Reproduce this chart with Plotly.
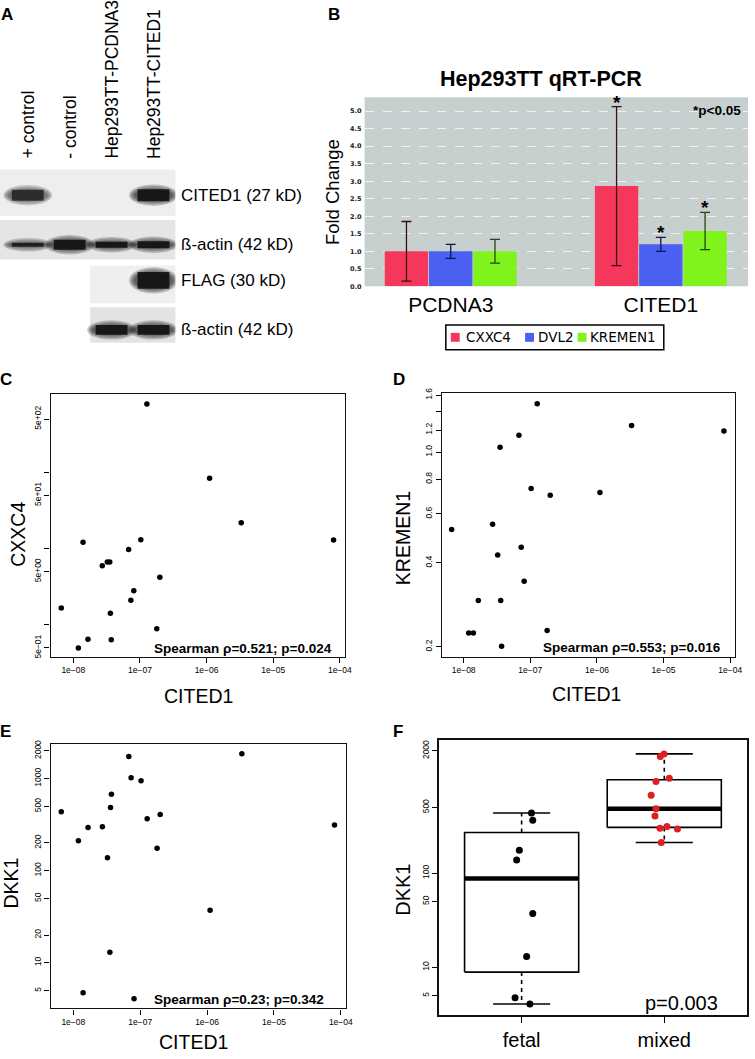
import plotly.graph_objects as go
import numpy as np

W, H = 755, 1059

# ------------------------------------------------------------------ data
# Panel A: western blot (relative band intensity per lane, None = lane not loaded)
lanes = ['+ control', '- control', 'Hep293TT-PCDNA3', 'Hep293TT-CITED1']
blot_rows = ['CITED1 (27 kD)', 'ß-actin (42 kD)', 'FLAG (30 kD)', 'ß-actin (42 kD)']
blot_cited1 = [0.80, 0.0, 0.0, 1.0]
blot_actin1 = [0.90, 1.0, 1.0, 1.0]
blot_flag = [None, None, 0.0, 1.0]
blot_actin2 = [None, None, 1.0, 1.0]

# Panel B: qRT-PCR fold change
qpcr_groups = ['PCDNA3', 'CITED1']
qpcr_genes = ['CXXC4', 'DVL2', 'KREMEN1']
fc_cxxc4 = [1.00, 2.86]
fc_dvl2 = [1.00, 1.20]
fc_kremen1 = [1.00, 1.58]
err_cxxc4 = [0.85, 2.27]
err_dvl2 = [0.20, 0.20]
err_kremen1 = [0.34, 0.53]
sig_cxxc4 = [False, True]
sig_dvl2 = [False, True]
sig_kremen1 = [False, True]
qpcr_note = '*p<0.05'

# Panels C-F: tumour samples
cited1 = [6.6e-9, 1.19e-8, 1.40e-8, 1.66e-8, 2.72e-8, 3.24e-8, 3.52e-8, 3.60e-8, 3.71e-8,
          6.76e-8, 7.31e-8, 8.09e-8, 1.03e-7, 1.27e-7, 1.79e-7, 1.99e-7, 1.11e-6, 3.31e-6, 8.05e-5]
cxxc4 = [1.67, 0.50, 12.1, 0.65, 5.98, 6.68, 6.68, 1.42, 0.64,
         9.75, 2.10, 2.81, 13.1, 791, 0.89, 4.22, 84, 21.8, 13.0]
kremen1 = [0.527, 0.224, 0.224, 0.293, 0.551, 0.427, 1.04, 0.293, 0.201,
           1.15, 0.455, 0.344, 0.74, 1.49, 0.229, 0.70, 0.716, 1.245, 1.19]
dkk1 = [437, 212, 4.75, 295, 300, 138, 13.0, 485, 675,
        1740, 1024, 4.07, 947, 367, 175, 407, 37.3, 1858, 314]
histology = ['fetal', 'mixed', 'fetal', 'mixed', 'mixed', 'fetal', 'fetal', 'mixed', 'mixed',
             'mixed', 'mixed', 'fetal', 'mixed', 'fetal', 'fetal', 'mixed', 'fetal', 'mixed', 'mixed']
jitter = [0.069, -0.021, -0.046, 0.092, -0.030, -0.035, 0.035, -0.058, -0.092,
          -0.028, 0.035, 0.058, -0.058, 0.078, -0.016, -0.065, 0.078, -0.002, 0.019]
hist_groups = ['fetal', 'mixed']
spearman_c = 'Spearman \u03c1=0.521; p=0.024'
spearman_d = 'Spearman \u03c1=0.553; p=0.016'
spearman_e = 'Spearman \u03c1=0.23; p=0.342'
pval_f = 'p=0.003'

# ------------------------------------------------------------------ style
FONT = 'Liberation Sans'
bar_colors = ['#f5375c', '#4b5ff0', '#80f21c']
err_colors = ['#3a0c16', '#0f1650', '#26460c']
panel_b_bg = '#c8cfcf'
strip_px = [(0, 177, 165, 212), (0, 177, 216, 256), (91, 177, 262, 300), (91, 177, 304, 340)]
strip_fill = ['#eeeeee', '#e5e5e5', '#efefef', '#e3e3e3']
band_cy = [191, 241, 277, 327]
band_h = [[11, 0, 0, 12], [4, 10, 6, 7], [0, 0, 0, 17], [0, 0, 10, 10]]
lane0_px, lane_step = 28.0, 42.3


def fx(px):
    return px / W


def fy(py):
    return 1 - py / H


fig = go.Figure()
shapes = []
ann = []


def text(x, y, s, size, bold=False, xref='paper', yref='paper', xa='center', ya='middle',
         angle=0, family=FONT, color='black', yshift=0):
    ann.append(dict(x=x, y=y, xref=xref, yref=yref, text=('<b>%s</b>' % s) if bold else s,
                    showarrow=False, xanchor=xa, yanchor=ya, textangle=angle, yshift=yshift,
                    font=dict(family=family, size=size, color=color)))


# ------------------------------------------------------------------ panel A
blot_data = [blot_cited1, blot_actin1, blot_flag, blot_actin2]
fig.add_trace(go.Scatter(x=[0], y=[0], xaxis='x2', yaxis='y2', mode='markers',
                         marker=dict(opacity=0), showlegend=False, hoverinfo='skip'))
for r, (row, vals) in enumerate(zip(blot_rows, blot_data)):
    x0p, x1p, y0p, y1p = strip_px[r]
    shapes.append(dict(type='rect', xref='paper', yref='paper', x0=fx(x0p), x1=fx(x1p),
                       y0=fy(y1p), y1=fy(y0p), fillcolor=strip_fill[r], line=dict(width=0),
                       layer='below'))
    for li, v in enumerate(vals):
        if v is None or v <= 0:
            continue
        h = band_h[r][li]
        cy = band_cy[r]
        # soft, layered band
        for k in range(4):
            ex = (3 - k) * 1.6
            shapes.append(dict(type='circle', xref='x2', yref='paper',
                               x0=li - 0.47 - ex / lane_step, x1=li + 0.47 + ex / lane_step,
                               y0=fy(cy + h / 2 + ex), y1=fy(cy - h / 2 - ex),
                               fillcolor='rgba(15,15,15,%.2f)' % (0.22 * v), line=dict(width=0)))
        shapes.append(dict(type='rect', xref='x2', yref='paper', x0=li - 0.38, x1=li + 0.38,
                           y0=fy(cy + h / 2), y1=fy(cy - h / 2),
                           fillcolor='rgba(10,10,10,%.2f)' % (0.85 * v), line=dict(width=0)))
    text(fx(181), fy(band_cy[r]), row, 17, xa='left')

for li, lab in enumerate(lanes):
    text(li, fy(156), lab, 17.5, xref='x2', ya='bottom', angle=-90)

# ------------------------------------------------------------------ panel B
bargap = 0.368
fcs = [fc_cxxc4, fc_dvl2, fc_kremen1]
errs = [err_cxxc4, err_dvl2, err_kremen1]
sigs = [sig_cxxc4, sig_dvl2, sig_kremen1]
xpos = list(range(len(qpcr_groups)))
shapes.append(dict(type='rect', xref='x domain', yref='y domain', x0=0, x1=1, y0=0, y1=1,
                   fillcolor=panel_b_bg, line=dict(width=0), layer='below'))
for gi, gene in enumerate(qpcr_genes):
    fig.add_trace(go.Bar(x=xpos, y=fcs[gi], name=gene, xaxis='x', yaxis='y',
                         marker=dict(color=bar_colors[gi], line=dict(width=0)),
                         error_y=dict(type='data', array=errs[gi], color=err_colors[gi],
                                      thickness=1.3, width=5),
                         showlegend=False))
    for j in xpos:
        if sigs[gi][j]:
            off = (gi - 1) * (1 - bargap) / len(qpcr_genes)
            text(j + off, fcs[gi][j] + errs[gi][j], '*', 19, bold=True, xref='x', yref='y',
                 ya='bottom', yshift=-8)

text(fx(546), fy(74), 'Hep293TT qRT-PCR', 21.5, bold=True)
text(fx(724), fy(106), qpcr_note, 13.5, bold=True)
text(fx(335), fy(188), 'Fold Change', 18.5, angle=-90)

# manual legend
shapes.append(dict(type='rect', xref='paper', yref='paper', x0=fx(450), x1=fx(670),
                   y0=fy(347), y1=fy(322), line=dict(color='black', width=1.5),
                   fillcolor='white'))
leg_sq = [455, 530, 583]
leg_tx = [468, 541, 594]
for gi, gene in enumerate(qpcr_genes):
    shapes.append(dict(type='rect', xref='paper', yref='paper', x0=fx(leg_sq[gi]),
                       x1=fx(leg_sq[gi] + 9), y0=fy(339), y1=fy(330),
                       fillcolor=bar_colors[gi], line=dict(width=0)))
    text(fx(leg_tx[gi]), fy(334.5), gene, 13.5, xa='left', family='DejaVu Sans')

# ------------------------------------------------------------------ panels C, D, E
mk = dict(color='black', size=5.5)
fig.add_trace(go.Scatter(x=cited1, y=cxxc4, mode='markers', marker=mk, xaxis='x3', yaxis='y3',
                         showlegend=False))
fig.add_trace(go.Scatter(x=cited1, y=kremen1, mode='markers', marker=mk, xaxis='x4', yaxis='y4',
                         showlegend=False))
fig.add_trace(go.Scatter(x=cited1, y=dkk1, mode='markers', marker=mk, xaxis='x5', yaxis='y5',
                         showlegend=False))

text(fx(245), fy(649), spearman_c, 13.5, bold=True)
text(fx(638), fy(648), spearman_d, 13.5, bold=True)
text(fx(241), fy(1003), spearman_e, 13.5, bold=True)

text(fx(18), fy(533), 'CXXC4', 19.5, angle=-90)
text(fx(200), fy(697), 'CITED1', 19.5)
text(fx(407), fy(537), 'KREMEN1', 19.5, angle=-90)
text(fx(592), fy(695), 'CITED1', 19.5)
text(fx(11), fy(885), 'DKK1', 19.5, angle=-90)
text(fx(195), fy(1046), 'CITED1', 19.5)

# ------------------------------------------------------------------ panel F


def fivenum(v):
    v = np.sort(np.asarray(v, float))
    n = len(v)
    n4 = np.floor((n + 3) / 2) / 2
    d = np.array([1, n4, (n + 1) / 2, n + 1 - n4, n]) - 1
    return 0.5 * (v[np.floor(d).astype(int)] + v[np.ceil(d).astype(int)])


for gi, g in enumerate(hist_groups):
    pos = gi + 1
    vals = [d for d, h in zip(dkk1, histology) if h == g]
    mn, q1, med, q3, mx = fivenum(vals)
    iqr = q3 - q1
    lo = min(v for v in vals if v >= q1 - 1.5 * iqr)
    hi = max(v for v in vals if v <= q3 + 1.5 * iqr)
    ln = dict(color='black', width=1.6)
    dash = dict(color='black', width=1.6, dash='4px,4px')
    common = dict(xaxis='x6', yaxis='y6', mode='lines', showlegend=False, hoverinfo='skip')
    fig.add_trace(go.Scatter(x=[pos, pos], y=[q3, hi], line=dash, **common))
    fig.add_trace(go.Scatter(x=[pos, pos], y=[q1, lo], line=dash, **common))
    fig.add_trace(go.Scatter(x=[pos - 0.2, pos + 0.2], y=[hi, hi], line=ln, **common))
    fig.add_trace(go.Scatter(x=[pos - 0.2, pos + 0.2], y=[lo, lo], line=ln, **common))
    fig.add_trace(go.Scatter(x=[pos - 0.4, pos + 0.4, pos + 0.4, pos - 0.4, pos - 0.4],
                             y=[q1, q1, q3, q3, q1], line=ln, **common))
    fig.add_trace(go.Scatter(x=[pos - 0.4, pos + 0.4], y=[med, med],
                             line=dict(color='black', width=4.5), **common))

for gi, g in enumerate(hist_groups):
    xs = [gi + 1 + j for j, h in zip(jitter, histology) if h == g]
    ys = [d for d, h in zip(dkk1, histology) if h == g]
    fig.add_trace(go.Scatter(x=xs, y=ys, mode='markers', xaxis='x6', yaxis='y6',
                             marker=dict(color='black' if g == 'fetal' else '#dc2020', size=7),
                             showlegend=False))

text(fx(688), fy(1007), pval_f, 20)
text(fx(406), fy(892), 'DKK1', 20, angle=-90)

# panel letters
for s, (x, y) in zip('ABCDEF', [(7, 9), (337, 9), (6, 377), (403, 377), (6, 732), (402, 732)]):
    text(fx(x), fy(y), s, 17, bold=True)

# ------------------------------------------------------------------ axes
tickf = dict(family=FONT, size=8.5, color='black')
boxax = dict(showline=True, mirror=True, linecolor='#111', linewidth=1.4, ticks='outside',
             ticklen=5, tickwidth=1, tickcolor='black', showgrid=False, zeroline=False,
             tickfont=tickf)
xlog_ticks = [1e-8, 1e-7, 1e-6, 1e-5, 1e-4]
xlog_text = ['1e\u221208', '1e\u221207', '1e\u221206', '1e\u221205', '1e\u221204']

layout = dict(
    width=W, height=H, margin=dict(l=0, r=0, t=0, b=0), paper_bgcolor='white',
    plot_bgcolor='white', showlegend=False, bargap=bargap, bargroupgap=0.02,
    barmode='group',
    xaxis=dict(domain=[fx(368), 1.0], range=[-0.41, 1.415], tickvals=xpos,
               ticktext=qpcr_groups, ticks='', showline=False, showgrid=False,
               zeroline=False, tickfont=dict(family=FONT, size=21, color='black'),
               anchor='y', ticklabelstandoff=4),
    yaxis=dict(domain=[fy(283), fy(92)], range=[0, 5.4], dtick=0.5, tick0=0,
               tickformat='.1f', showgrid=True, gridcolor='rgba(255,255,255,0.7)',
               gridwidth=0.8, griddash='dash', zeroline=False, showline=False, ticks='',
               tickfont=dict(family='DejaVu Sans', size=6.5, color='#222', weight='bold'),
               anchor='x', ticklabelstandoff=2),
    xaxis2=dict(domain=[0, fx(177)], range=[-lane0_px / lane_step, (177 - lane0_px) / lane_step],
                visible=False, anchor='y2'),
    yaxis2=dict(domain=[fy(340), fy(0)], range=[0, 1], visible=False, anchor='x2'),
    xaxis3=dict(domain=[fx(51), fx(348)], type='log', range=[-8.342, -3.926],
                tickvals=xlog_ticks, ticktext=xlog_text, anchor='y3', **boxax),
    yaxis3=dict(domain=[fy(657), fy(392)], type='log', range=[-0.418, 3.024],
                tickvals=[0.5, 1, 5, 10, 50, 100, 500],
                ticktext=['5e\u221201', '', '5e+00', '', '5e+01', '', '5e+02'],
                tickangle=-90, anchor='x3', **boxax),
    xaxis4=dict(domain=[fx(446), fx(742)], type='log', range=[-8.327, -3.926],
                tickvals=xlog_ticks, ticktext=xlog_text, anchor='y4', **boxax),
    yaxis4=dict(domain=[fy(657), fy(391)], type='log', range=[-0.735, 0.211],
                tickvals=[0.2, 0.4, 0.6, 0.8, 1.0, 1.2, 1.4, 1.6],
                ticktext=['0.2', '0.4', '0.6', '0.8', '1.0', '1.2', '', '1.6'],
                tickangle=-90, anchor='x4', **boxax),
    xaxis5=dict(domain=[fx(51), fx(349)], type='log', range=[-8.341, -3.926],
                tickvals=xlog_ticks, ticktext=xlog_text, anchor='y5', **boxax),
    yaxis5=dict(domain=[fy(1012), fy(745)], type='log', range=[0.505, 3.376],
                tickvals=[5, 10, 20, 50, 100, 200, 500, 1000, 2000],
                ticktext=['5', '10', '20', '50', '100', '200', '500', '1000', '2000'],
                tickangle=-90, anchor='x5', **boxax),
    xaxis6=dict(domain=[fx(443), fx(754)], range=[0.42, 2.58], tickvals=[1, 2],
                ticktext=hist_groups, anchor='y6',
                **{**boxax, 'tickfont': dict(family=FONT, size=20, color='black'),
                   'linewidth': 1.8, 'ticklen': 6}),
    yaxis6=dict(domain=[fy(1019), fy(741)], type='log', range=[0.488, 3.417],
                tickvals=[5, 10, 50, 100, 500, 2000],
                ticktext=['5', '10', '50', '100', '500', '2000'],
                tickangle=-90, anchor='x6', **{**boxax, 'linewidth': 1.8}),
    shapes=shapes, annotations=ann,
)
fig.update_layout(**layout)
fig.write_html('out.html', config={'displayModeBar': False},
               post_script="document.body.style.margin='0';document.body.style.overflow='hidden';")
